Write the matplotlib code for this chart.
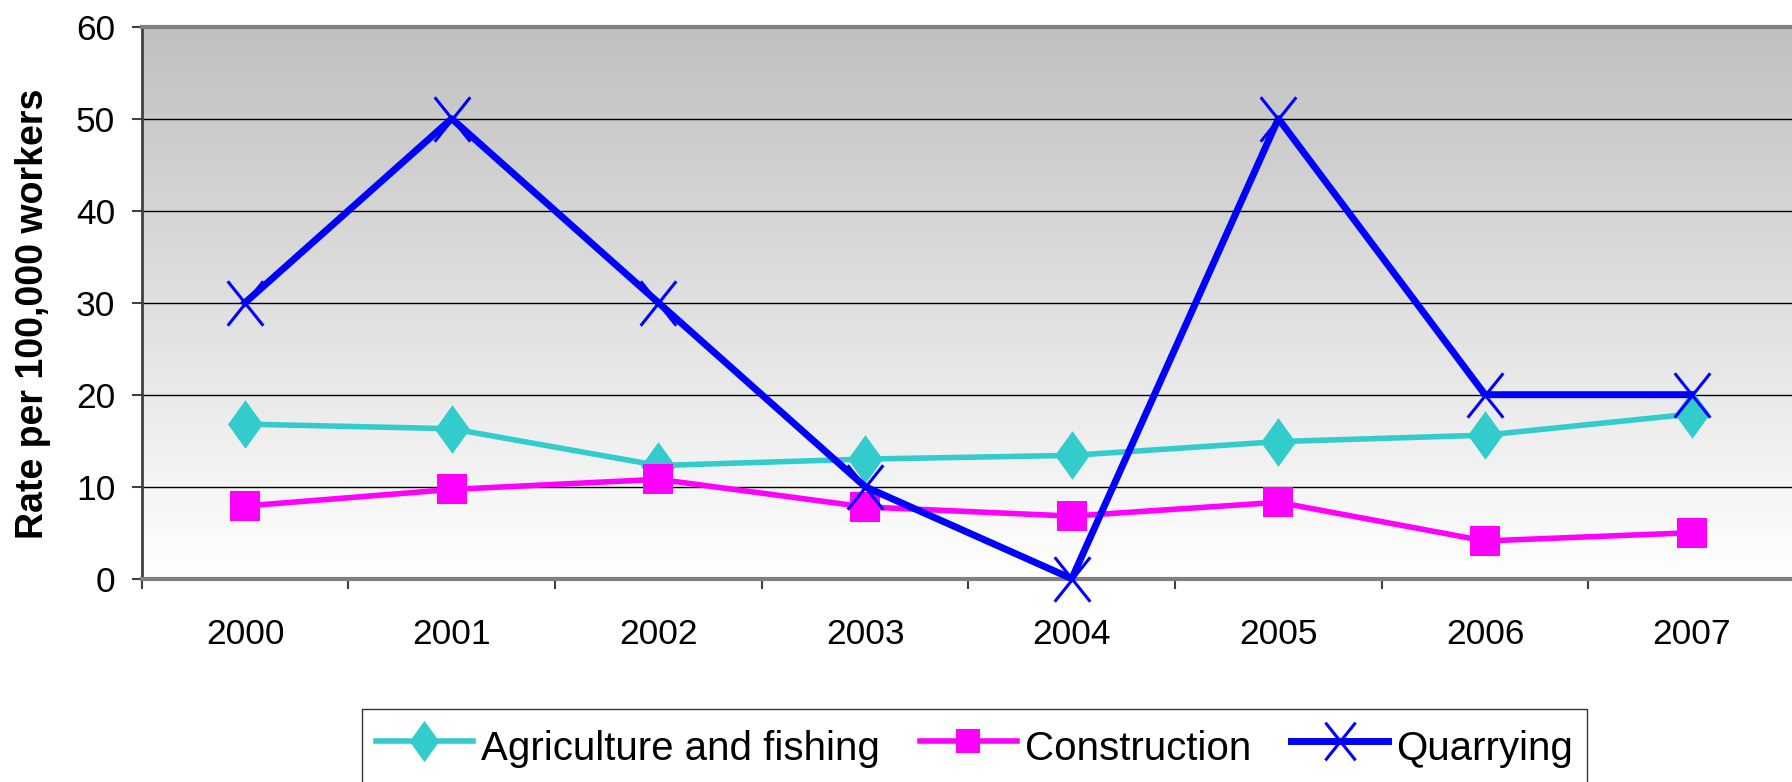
import numpy as np
import matplotlib
matplotlib.use('Agg')
import matplotlib.pyplot as plt
from matplotlib.colors import LinearSegmentedColormap
from matplotlib.path import Path

plt.rcParams['font.family'] = ['Liberation Sans', 'DejaVu Sans']

#data
years = ['2000', '2001', '2002', '2003', '2004', '2005', '2006', '2007']
agriculture = [16.8, 16.3, 12.3, 13.0, 13.4, 14.9, 15.6, 17.9]
construction = [7.9, 9.7, 10.8, 7.8, 6.8, 8.3, 4.1, 5.0]
quarrying = [30, 50, 30, 10, 0, 50, 20, 20]
yticks = [0, 10, 20, 30, 40, 50, 60]

x = np.arange(len(years))

#tall diamond like the excel one
diamond = Path([(0, 1), (0.72, 0), (0, -1), (-0.72, 0), (0, 1)],
               [Path.MOVETO, Path.LINETO, Path.LINETO, Path.LINETO, Path.CLOSEPOLY])
cross = Path([(-0.8, -1), (0.8, 1), (-0.8, 1), (0.8, -1)],
             [Path.MOVETO, Path.LINETO, Path.MOVETO, Path.LINETO])

fig = plt.figure(figsize=(17.92, 7.82), dpi=100)
ax = fig.add_axes([0.0791, 0.2600, 0.9226, 0.7059])

#grey to white background
cmap = LinearSegmentedColormap.from_list('bg', ['#ffffff', '#c0c0c0'])
grad = np.linspace(0, 1, 256).reshape(-1, 1)
ax.imshow(grad, extent=[-0.5, 7.5, 0, 60], aspect='auto', cmap=cmap,
          origin='lower', zorder=0)

ax.plot(x, agriculture, color='#33CCCC', lw=4, marker=diamond, markersize=35,
        markeredgewidth=0, label='Agriculture and fishing', zorder=3)
ax.plot(x, construction, color='#FF00FF', lw=4, marker='s', markersize=21,
        markeredgewidth=0, label='Construction', zorder=3)
ax.plot(x, quarrying, color='#0000FF', lw=5, marker=cross, markersize=32,
        markerfacecolor='none', markeredgecolor='#0000FF', markeredgewidth=2.2,
        label='Quarrying', zorder=4, clip_on=False)

ax.set_xlim(-0.5, 7.5)
ax.set_ylim(0, 60)
ax.set_yticks(yticks)
ax.set_yticklabels([str(v) for v in yticks])
ax.yaxis.grid(True, color='black', lw=1)
ax.set_axisbelow(True)

#year labels in the middle, tick marks between categories
ax.set_xticks(x)
ax.set_xticklabels(years)
ax.set_xticks(np.arange(-0.5, 8.0, 1.0), minor=True)
ax.tick_params(axis='x', which='major', length=0, pad=28, labelsize=25.5)
ax.tick_params(axis='x', which='minor', length=7, width=1.5, color='#404040', direction='out')
ax.tick_params(axis='y', length=7, width=1.5, color='#404040', pad=12, labelsize=25.5)

ax.set_ylabel('Rate per 100,000 workers', fontsize=27, fontweight='bold', va='center')
ax.yaxis.set_label_coords(-0.066, 0.48)

ax.spines['top'].set_color('#808080')
ax.spines['top'].set_linewidth(3)
ax.spines['bottom'].set_color('#808080')
ax.spines['bottom'].set_linewidth(3)
ax.spines['left'].set_color('#404040')
ax.spines['left'].set_linewidth(2)
ax.spines['right'].set_visible(False)

leg = fig.legend(loc='upper left', bbox_to_anchor=(362 / 1792, 1 - 709 / 782),
                 ncol=3, fontsize=29, frameon=True, fancybox=False,
                 edgecolor='black', handlelength=2.4, handletextpad=0.2,
                 handleheight=1.4, columnspacing=1.0, borderpad=0.35,
                 borderaxespad=0)
leg.get_frame().set_linewidth(1)
for h in leg.legend_handles:
    h.set_markersize(h.get_markersize() * 0.85)

fig.savefig('out.png', dpi=100)
